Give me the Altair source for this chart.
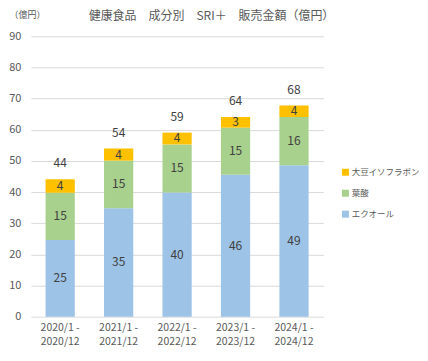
import altair as alt
import pandas as pd

periods = ["2020/1 - 2020/12", "2021/1 - 2021/12", "2022/1 - 2022/12", "2023/1 - 2023/12", "2024/1 - 2024/12"]
series = ["エクオール", "葉酸", "大豆イソフラボン"]
equol = [24.6, 34.8, 39.9, 45.6, 48.6]
folic = [15.2, 15.3, 15.4, 15.1, 15.5]
isoflavone = [4.3, 3.9, 3.8, 3.4, 3.7]
colors = ["#9DC3E6", "#A9D18E", "#FFC000"]
y_ticks = [0, 10, 20, 30, 40, 50, 60, 70, 80, 90]
title = "健康食品　成分別　SRI＋　販売金額（億円）"
unit = "（億円）"

rows = []
for i, p in enumerate(periods):
    for k, (s, vals) in enumerate(zip(series, [equol, folic, isoflavone])):
        rows.append({"period": p, "series": s, "value": vals[i], "ord": k})
df = pd.DataFrame(rows)

FONT = "Noto Sans CJK JP"
TXT = "#595959"

x_scale = alt.Scale(paddingInner=0.5, paddingOuter=0.25)
x_axis = alt.Axis(labelExpr="[split(datum.label,' - ')[0] + ' -', split(datum.label,' - ')[1]]",
                  labelAngle=0, domain=False, ticks=False, labelPadding=6,
                  labelFontSize=10.5, labelColor=TXT, labelFont=FONT, labelLineHeight=14)
y_scale = alt.Scale(domain=[0, 90], nice=False)
y_axis = alt.Axis(values=y_ticks, domain=False, ticks=False, labelOverlap=False,
                  labelPadding=10, labelFontSize=11, labelColor=TXT, labelFont=FONT,
                  gridColor="#D9D9D9", gridWidth=1,
                  title=unit, titleAngle=0, titleAlign="left", titleBaseline="middle",
                  titleX=-22, titleY=-22, titleFontSize=9, titleFontWeight="normal",
                  titleColor=TXT, titleFont=FONT)


def X():
    return alt.X("period:N", sort=periods, title=None, scale=x_scale, axis=x_axis)


def Y(field, **kw):
    return alt.Y(field, scale=y_scale, axis=y_axis, **kw)


base = alt.Chart(df)

bars = base.mark_bar().encode(
    x=X(),
    y=Y("value:Q", stack="zero"),
    color=alt.Color("series:N",
                    scale=alt.Scale(domain=["大豆イソフラボン", "葉酸", "エクオール"],
                                    range=[colors[2], colors[1], colors[0]]),
                    legend=alt.Legend(title=None, orient="none", legendX=311, legendY=132,
                                      symbolType="square", symbolSize=49, symbolStrokeWidth=0,
                                      labelFontSize=8.5, labelColor=TXT, labelFont=FONT,
                                      rowPadding=12, labelOffset=2)),
    order=alt.Order("ord:Q", sort="ascending"),
)

seg_text = base.transform_stack(
    stack="value", groupby=["period"], sort=[alt.SortField("ord", order="ascending")], as_=["y0", "y1"]
).transform_calculate(mid="(datum.y0 + datum.y1) / 2").mark_text(
    fontSize=12, color="#404040", font=FONT
).encode(
    x=X(),
    y=Y("mid:Q"),
    text=alt.Text("value:Q", format=".0f"),
)

tot_text = base.transform_aggregate(total="sum(value)", groupby=["period"]).mark_text(
    fontSize=12, color="#404040", font=FONT, dy=-16
).encode(
    x=X(),
    y=Y("total:Q"),
    text=alt.Text("total:Q", format=".0f"),
)

title_text = alt.Chart(pd.DataFrame({"t": [title]})).mark_text(
    fontSize=12, color=TXT, font=FONT, align="center", baseline="middle"
).encode(text="t:N", x=alt.value(181), y=alt.value(-20))

chart = alt.layer(bars, seg_text, tot_text, title_text).properties(
    width=293, height=281,
    autosize=alt.AutoSizeParams(type="none"),
    padding={"left": 23, "top": 28, "right": 97, "bottom": 35},
).configure_view(stroke=None)

chart.save("out.html", embed_options={"renderer": "svg", "actions": False})
